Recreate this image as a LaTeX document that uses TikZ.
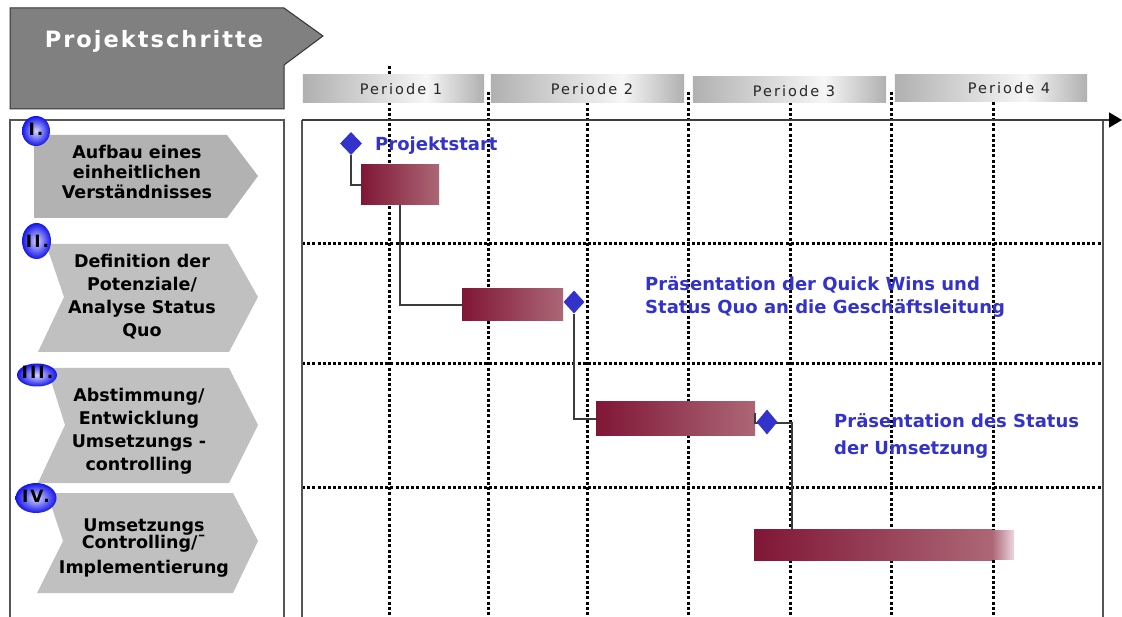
\documentclass[tikz,border=0pt]{standalone}
\usepackage{fontspec}
\setmainfont{DejaVu Sans}
\newfontfamily\perfont[LetterSpace=14]{DejaVu Sans}
\newfontfamily\hdrfont[LetterSpace=9]{DejaVu Sans}
\newfontfamily\romfont[LetterSpace=12]{DejaVu Sans}
\usetikzlibrary{shapes.geometric,arrows.meta,calc}
\definecolor{lblblue}{RGB}{51,51,204}
\definecolor{barL}{RGB}{128,22,54}
\definecolor{barR}{RGB}{172,103,118}
\definecolor{barF}{RGB}{236,214,222}
\definecolor{chevA}{RGB}{178,178,178}
\definecolor{chevB}{RGB}{192,192,192}
\definecolor{hdr}{RGB}{128,128,128}
\definecolor{frame}{RGB}{85,85,85}
\definecolor{conn}{RGB}{60,60,60}
\definecolor{perA}{RGB}{176,176,176}
\definecolor{perB}{RGB}{246,246,246}
\definecolor{ballout}{RGB}{20,20,235}
\definecolor{ballin}{RGB}{215,215,255}
\tikzset{
  dotline/.style={line width=3pt, dash pattern=on 3pt off 2.2pt, black},
  framel/.style={draw=frame, line width=1.6pt},
  periodbox/.style={rectangle, inner sep=0pt, draw=none},
  pershadeL/.style={left color=perA, right color=perB, draw=none},
  pershadeR/.style={left color=perB, right color=perA, draw=none},
  periodtxt/.style={inner sep=0pt, font=\perfont\fontsize{14.5}{17}\selectfont, text=black!85},
  chevA/.style={fill=chevA, draw=none},
  chevB/.style={fill=chevB, draw=none},
  steptxt/.style={inner sep=0pt, align=center, text=black, font=\fontsize{17.5}{20}\selectfont\bfseries},
  ballnode/.style={ellipse, inner sep=0pt, shading=radial, inner color=ballin, outer color=ballout},
  romtxt/.style={inner sep=0pt, text=black, font=\romfont\fontsize{17}{20}\selectfont\bfseries},
  barbox/.style={rectangle, inner sep=0pt, left color=barL, right color=barR},
  fadebox/.style={rectangle, inner sep=0pt, left color=barR, right color=barF},
  milestone/.style={diamond, inner sep=0pt, fill=lblblue, draw=none},
  conline/.style={draw=conn, line width=1.6pt},
  bluetxt/.style={inner sep=0pt, align=left, text=lblblue, font=\fontsize{18}{23}\selectfont\bfseries}
}
\newcommand{\pershade}[1]{%
  \shade[pershadeL] (#1.north west) rectangle ($(#1.south west)!0.68!(#1.south east)$);
  \shade[pershadeR] ($(#1.north west)!0.68!(#1.north east)$) rectangle (#1.south east);
}
\begin{document}
\begin{tikzpicture}[x=1pt, y=-1pt]
\useasboundingbox (0,0) rectangle (1122,617);
\fill[white] (0,0) rectangle (1122,617);

% dotted grid
\draw[dotline] (389,66) -- (389,617);
\foreach \xx in {488,587,688,790,891,993}
  \draw[dotline] (\xx,92) -- (\xx,617);
\foreach \yy in {244,364,487}
  \draw[dotline] (302,\yy) -- (1103,\yy);

% period header boxes
\node[periodbox, minimum width=181, minimum height=27] (p1) at (393.5,88.5) {};
\node[periodbox, minimum width=193, minimum height=27] (p2) at (587.5,88.5) {};
\node[periodbox, minimum width=193, minimum height=25] (p3) at (789.5,89.5) {};
\node[periodbox, minimum width=192, minimum height=26] (p4) at (991,88) {};
\pershade{p1}
\pershade{p2}
\pershade{p3}
\pershade{p4}
\node[periodtxt] (t1) at (401,89) {Periode 1};
\node[periodtxt] (t2) at (592,89) {Periode 2};
\node[periodtxt] (t3) at (794,91) {Periode 3};
\node[periodtxt] (t4) at (1009,88) {Periode 4};

% header pentagon
\draw[fill=hdr, draw=black!80, line width=1pt]
  (10,8) -- (284,8) -- (323,36) -- (284,65) -- (284,109) -- (10,109) -- cycle;
\node[inner sep=0pt, text=white, font=\hdrfont\fontsize{22.5}{26}\selectfont\bfseries] (hdrtxt) at (154,41) {Projektschritte};

% left panel
\draw[framel] (10,617) -- (10,120) -- (284,120) -- (284,617);
% right panel
\draw[framel] (302,617) -- (302,120);
\draw[framel] (1103,120) -- (1103,617);
\coordinate (axs) at (302,120);
\coordinate (axe) at (1122,120);
\draw[draw=conn, line width=1.6pt, -{Triangle[length=13pt, width=15pt, color=black]}] (axs) -- (axe);

% chevrons
\fill[chevA] (34,135) -- (227,135) -- (258,176) -- (227,218) -- (34,218) -- cycle;
\fill[chevB] (46,244) -- (228,244) -- (258,297) -- (229,352) -- (38,352) -- (64,297) -- cycle;
\fill[chevB] (47,368) -- (229,368) -- (258,425) -- (229,483) -- (38,483) -- (65,425) -- cycle;
\fill[chevB] (47,493) -- (233,493) -- (258,541) -- (233,593) -- (37,593) -- (63,541) -- cycle;

\node[steptxt] (s1) at (137,172) {Aufbau eines\\einheitlichen\\Verständnisses};
\node[steptxt, font=\fontsize{17.5}{23}\selectfont\bfseries] (s2) at (142,297) {Definition der\\Potenziale/\\Analyse Status\\Quo};
\node[steptxt, font=\fontsize{17.5}{23}\selectfont\bfseries] (s3) at (139,431) {Abstimmung/\\Entwicklung\\Umsetzungs -\\controlling};
\node[steptxt] (s4) at (144,548) {Umsetzungs\\[-3pt]Controlling/¯\\[5pt]Implementierung};

% roman numeral balls
\node[ballnode, minimum width=28, minimum height=30] (r1) at (36,131) {};
\node[ballnode, minimum width=29, minimum height=36] (r2) at (36.5,241) {};
\node[ballnode, minimum width=40, minimum height=23] (r3) at (37,375) {};
\node[ballnode, minimum width=41, minimum height=30] (r4) at (36,498) {};
\node[romtxt] at (36,129.5) {I.};
\node[romtxt] at (37.5,241) {II.};
\node[romtxt] at (37.5,372) {III.};
\node[romtxt] at (36,496) {IV.};

% bars
\node[barbox, minimum width=78, minimum height=40] (b1) at (400,185) {};
\node[barbox, minimum width=101, minimum height=32] (b2) at (512.5,305) {};
\node[barbox, minimum width=159, minimum height=34] (b3) at (675.5,419) {};
\node[barbox, minimum width=238, minimum height=31] (b4) at (873,544.5) {};
\node[fadebox, minimum width=22, minimum height=29] (b4f) at (1003,544.5) {};

% milestones
\node[milestone, minimum width=22, minimum height=23] (d1) at (351,143.5) {};
\node[milestone, minimum width=21, minimum height=23] (d2) at (574,302) {};
\coordinate (c4) at (792,423);

% connectors
\draw[conline] (d1.south) |- (b1.west);
\draw[conline] (b1.south) |- (b2.west);
\draw[conline] (d2.south) |- (b3.west);
\draw[conline] ([yshift=6pt]b3.east) -- ([yshift=-4pt]b3.east) -| (b4.north -| c4);
\node[milestone, minimum width=21, minimum height=25] (d3) at (767,422) {};

% labels
\node[bluetxt, anchor=base west] (l1) at (375,150.4) {Projektstart};
\node[bluetxt, anchor=west] (l2) at (645,297.4) {Präsentation der Quick Wins und\\Status Quo an die Geschäftsleitung};
\node[bluetxt, anchor=west, font=\fontsize{18}{27}\selectfont\bfseries] (l3) at (834,436.4) {Präsentation des Status\\der Umsetzung};
\end{tikzpicture}
\end{document}
